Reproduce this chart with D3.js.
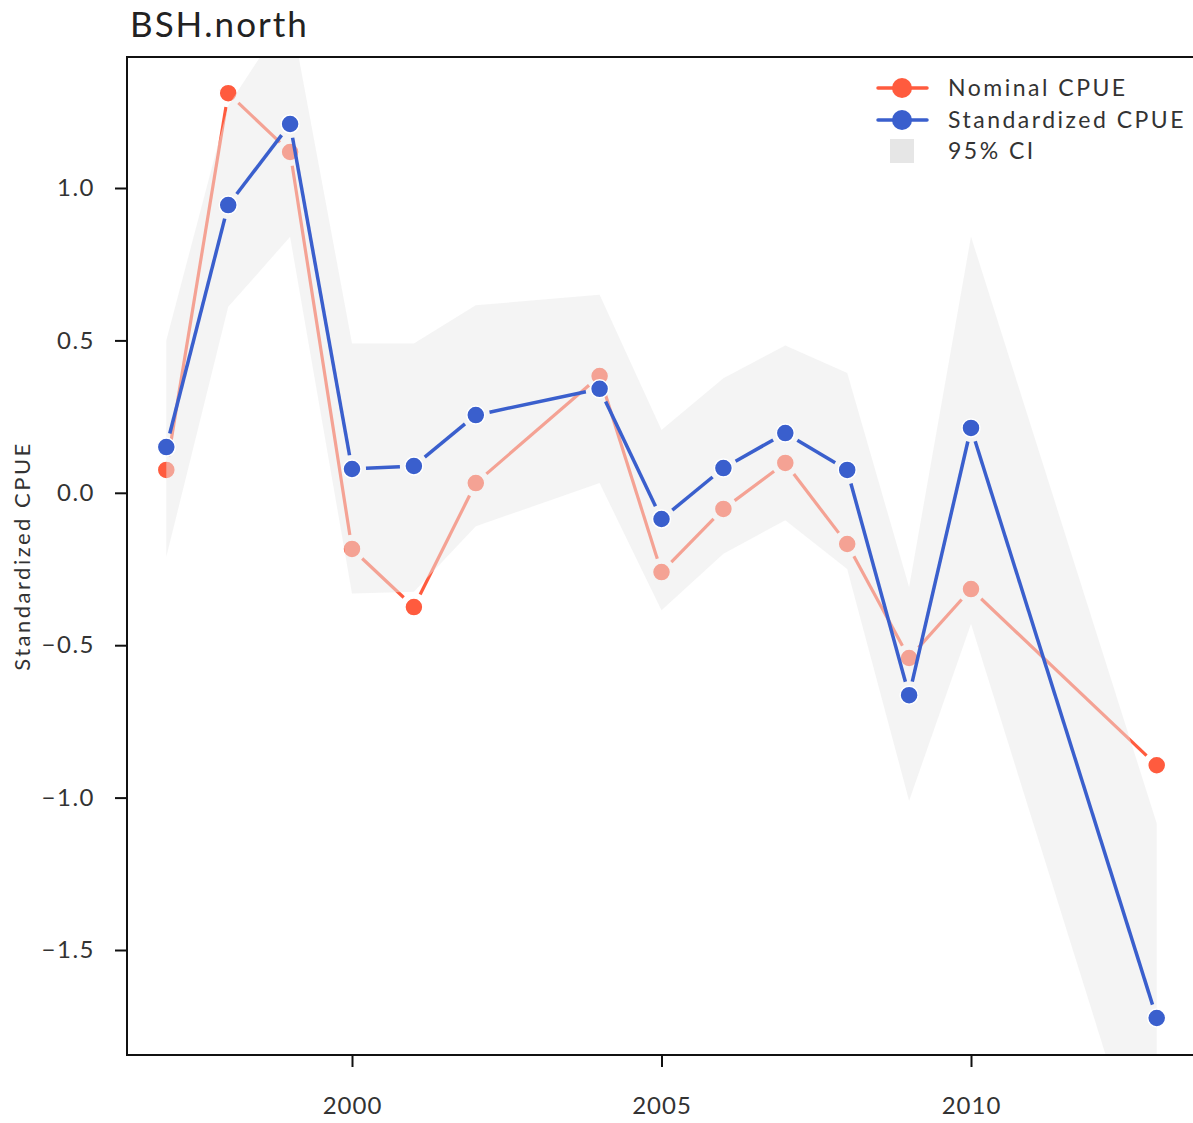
<!DOCTYPE html>
<html>
<head>
<meta charset="utf-8">
<script src="https://cdn.jsdelivr.net/npm/d3@7"></script>
<style>
  body { margin: 0; background: #fff; }
  text { font-family: "Lato", "DejaVu Sans", sans-serif; }
</style>
</head>
<body>
<svg id="chart" width="1193" height="1123"></svg>
<script>
// data
var years = [1997, 1998, 1999, 2000, 2001, 2002, 2004, 2005, 2006, 2007, 2008, 2009, 2010, 2013];
var nominal = [0.075, 1.311, 1.118, -0.184, -0.375, 0.032, 0.383, -0.26, -0.053, 0.098, -0.168, -0.542, -0.316, -0.894];
var standardized = [0.150, 0.944, 1.210, 0.078, 0.088, 0.255, 0.341, -0.086, 0.081, 0.196, 0.075, -0.664, 0.213, -1.723];
var ciUpper = [0.50, 1.27, 1.58, 0.49, 0.49, 0.615, 0.65, 0.206, 0.376, 0.483, 0.393, -0.31, 0.84, -1.085];
var ciLower = [-0.21, 0.61, 0.84, -0.33, -0.325, -0.11, 0.032, -0.385, -0.2, -0.09, -0.25, -1.01, -0.43, -2.38];
var xTicks = [2000, 2005, 2010];
var yTicks = [-1.5, -1.0, -0.5, 0.0, 0.5, 1.0];

var nomColor = "#ff5b3e";
var stdColor = "#3a5fcd";

var svg = d3.select("#chart");
var pLeft = 127, pTop = 57, pBottom = 1055, pRight = 1193;

var x = d3.scaleLinear().domain([1997, 2013]).range([166.3, 1156.7]);
var y = d3.scaleLinear().domain([0, 1]).range([492.8, 188]);

svg.append("defs").append("clipPath").attr("id", "plotclip")
  .append("rect").attr("x", pLeft).attr("y", pTop).attr("width", pRight - pLeft).attr("height", pBottom - pTop);

var plot = svg.append("g").attr("clip-path", "url(#plotclip)");

var rows = years.map(function (yr, i) {
  return { year: yr, nom: nominal[i], std: standardized[i], lo: ciLower[i], hi: ciUpper[i] };
});

// line segments with a gap round each point
function drawSeries(g, key, color, width) {
  var gap = 14;
  for (var i = 0; i < rows.length - 1; i++) {
    var x1 = x(rows[i].year), y1 = y(rows[i][key]);
    var x2 = x(rows[i + 1].year), y2 = y(rows[i + 1][key]);
    var len = Math.sqrt((x2 - x1) * (x2 - x1) + (y2 - y1) * (y2 - y1));
    if (len <= 2 * gap) continue;
    var ux = (x2 - x1) / len, uy = (y2 - y1) / len;
    g.append("line")
      .attr("x1", x1 + ux * gap).attr("y1", y1 + uy * gap)
      .attr("x2", x2 - ux * gap).attr("y2", y2 - uy * gap)
      .attr("stroke", color).attr("stroke-width", width);
  }
  g.selectAll("circle." + key).data(rows).enter().append("circle")
    .attr("class", key)
    .attr("cx", function (d) { return x(d.year); })
    .attr("cy", function (d) { return y(d[key]); })
    .attr("r", 9)
    .attr("fill", color)
    .attr("stroke", "#fff").attr("stroke-width", 1.5);
}

// nominal goes under the CI band
drawSeries(plot.append("g"), "nom", nomColor, 3.2);

var area = d3.area()
  .x(function (d) { return x(d.year); })
  .y0(function (d) { return y(d.lo); })
  .y1(function (d) { return y(d.hi); });

plot.append("path").datum(rows)
  .attr("d", area)
  .attr("fill", "#e9e9e9")
  .attr("fill-opacity", 0.5);

drawSeries(plot.append("g"), "std", stdColor, 3.5);

// frame
svg.append("path")
  .attr("d", "M" + pRight + "," + pTop + "H" + pLeft + "V" + pBottom + "H" + pRight)
  .attr("fill", "none").attr("stroke", "#111").attr("stroke-width", 2);

// axes
var yAxis = d3.axisLeft(y).tickValues(yTicks).tickSize(12).tickPadding(20)
  .tickFormat(function (d) { return d3.format(".1f")(d).replace("-", "\u2212"); });
var gy = svg.append("g").attr("transform", "translate(" + pLeft + ",0)").call(yAxis);
gy.select(".domain").remove();
gy.selectAll(".tick line").attr("stroke", "#111").attr("stroke-width", 2);
gy.selectAll(".tick text").attr("font-size", 24).attr("fill", "#333")
  .style("font-family", "Lato, 'DejaVu Sans', sans-serif").style("letter-spacing", "1.5px");

var xAxis = d3.axisBottom(x).tickValues(xTicks).tickSize(12).tickPadding(30).tickFormat(d3.format("d"));
var gx = svg.append("g").attr("transform", "translate(0," + pBottom + ")").call(xAxis);
gx.select(".domain").remove();
gx.selectAll(".tick line").attr("stroke", "#111").attr("stroke-width", 2);
gx.selectAll(".tick text").attr("font-size", 24).attr("fill", "#333")
  .style("font-family", "Lato, 'DejaVu Sans', sans-serif").style("letter-spacing", "1px");

// title and axis label
svg.append("text").attr("x", 130).attr("y", 37).attr("font-size", 35).attr("fill", "#222")
  .style("letter-spacing", "2px").text("BSH.north");

svg.append("text")
  .attr("transform", "translate(30,556) rotate(-90)")
  .attr("text-anchor", "middle").attr("font-size", 22).attr("fill", "#333")
  .style("letter-spacing", "2.5px")
  .text("Standardized CPUE");

// legend
var legend = svg.append("g");
[{ label: "Nominal CPUE", color: nomColor, yy: 88 }, { label: "Standardized CPUE", color: stdColor, yy: 120 }]
  .forEach(function (it) {
    legend.append("line").attr("x1", 878).attr("x2", 927).attr("y1", it.yy).attr("y2", it.yy)
      .attr("stroke", it.color).attr("stroke-width", 3.5).attr("stroke-linecap", "round");
    legend.append("circle").attr("cx", 902).attr("cy", it.yy).attr("r", 10).attr("fill", it.color);
    legend.append("text").attr("x", 948).attr("y", it.yy + 8).attr("font-size", 23).attr("fill", "#333")
      .style("letter-spacing", "2.5px").text(it.label);
  });
legend.append("rect").attr("x", 890).attr("y", 139).attr("width", 24).attr("height", 24).attr("fill", "#e6e6e6");
legend.append("text").attr("x", 948).attr("y", 159).attr("font-size", 23).attr("fill", "#333")
  .style("letter-spacing", "2.5px").text("95% CI");
</script>
</body>
</html>
